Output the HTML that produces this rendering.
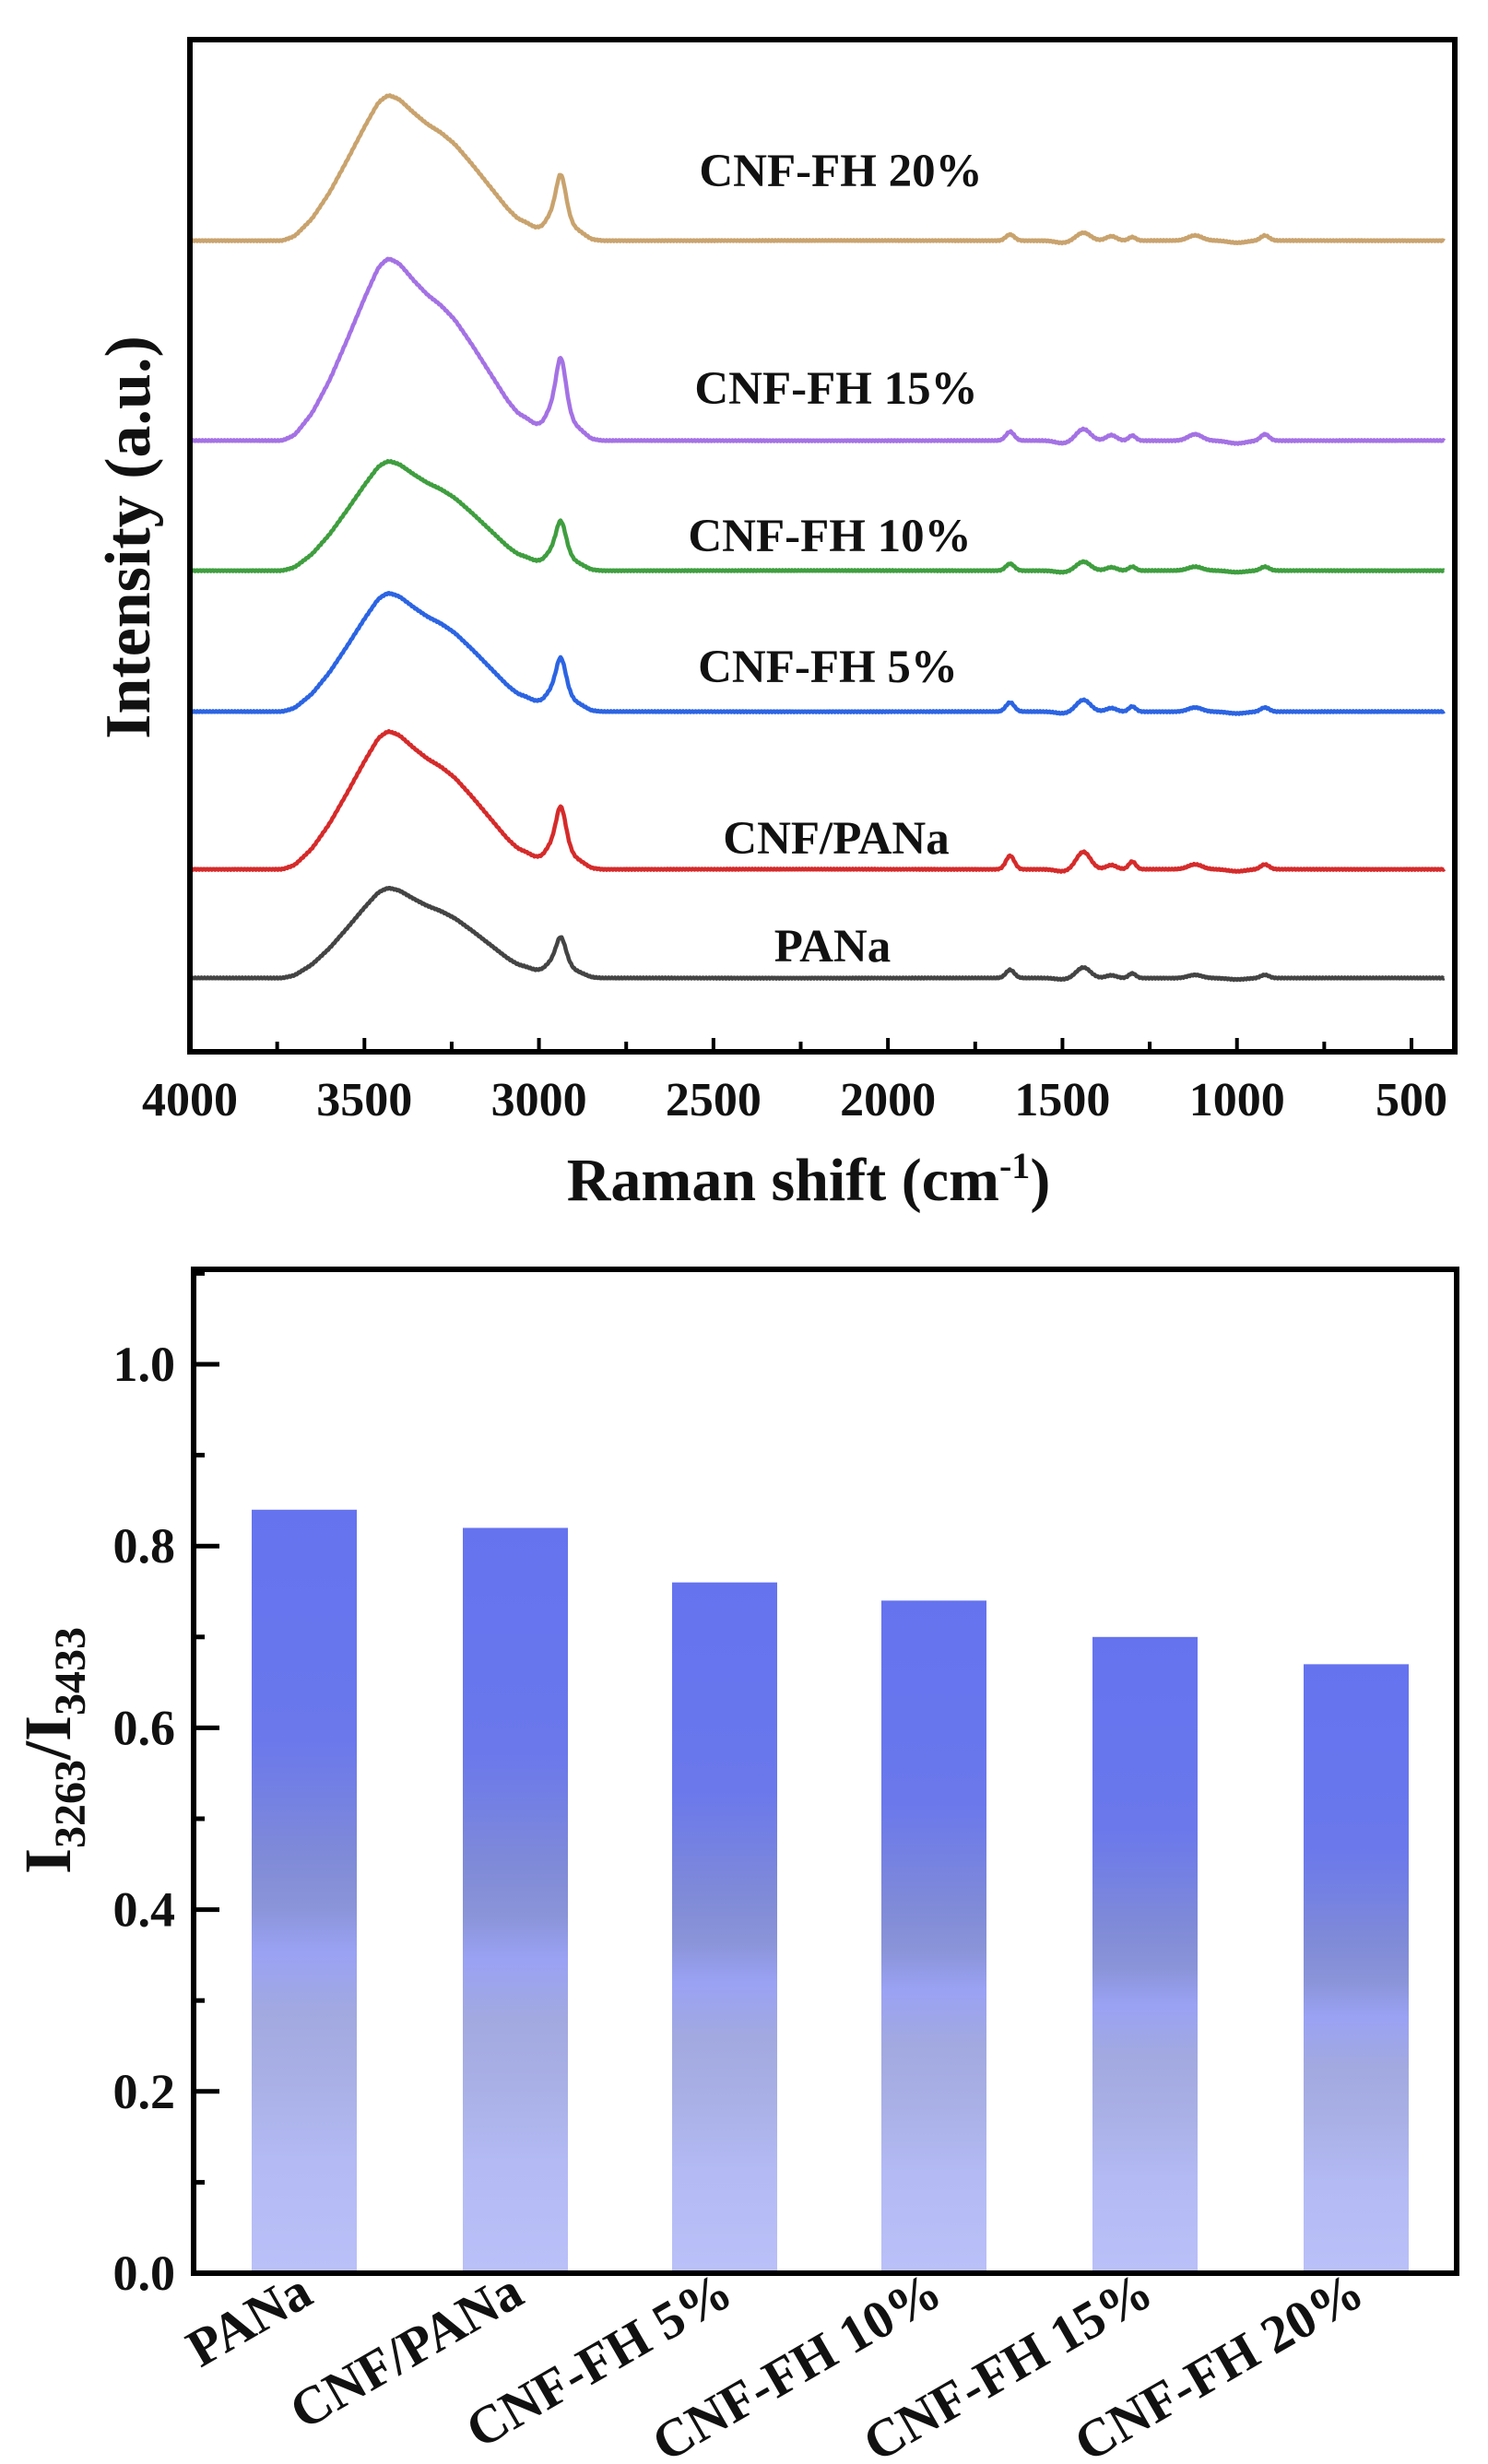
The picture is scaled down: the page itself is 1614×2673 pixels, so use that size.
<!DOCTYPE html>
<html><head><meta charset="utf-8"><style>
html,body{margin:0;padding:0;background:#fff;}
svg text{font-family:"Liberation Serif",serif;font-weight:bold;fill:#111;}
</style></head><body>
<svg id="s" width="1614" height="2668" viewBox="0 0 1614 2668" xmlns="http://www.w3.org/2000/svg">
<defs>
<linearGradient id="bg" x1="0" y1="0" x2="0" y2="1">
<stop offset="0" stop-color="#6573ef"/>
<stop offset="0.3" stop-color="#6a78ec"/>
<stop offset="0.45" stop-color="#7f8ad8"/>
<stop offset="0.52" stop-color="#8a94d8"/>
<stop offset="0.58" stop-color="#9aa2f4"/>
<stop offset="0.66" stop-color="#a2a9e0"/>
<stop offset="0.75" stop-color="#a9b0e6"/>
<stop offset="0.85" stop-color="#b3baf4"/>
<stop offset="1" stop-color="#bac0f8"/>
</linearGradient>
</defs>
<g id="curves"></g>
<rect x="206" y="43" width="1372" height="1098" fill="none" stroke="#000" stroke-width="6"/>
<g id="xt"></g>
<g font-size="51">
<text x="912" y="202" text-anchor="middle">CNF-FH 20%</text>
<text x="907" y="438" text-anchor="middle">CNF-FH 15%</text>
<text x="900" y="598" text-anchor="middle">CNF-FH 10%</text>
<text x="898" y="740" text-anchor="middle">CNF-FH 5%</text>
<text x="907" y="926" text-anchor="middle">CNF/PANa</text>
<text x="903" y="1043" text-anchor="middle">PANa</text>
</g>
<text x="877" y="1302" font-size="66" text-anchor="middle">Raman shift (cm<tspan dy="-24" font-size="40">-1</tspan><tspan dy="24">)</tspan></text>
<text transform="translate(162,583) rotate(-90)" font-size="70" text-anchor="middle">Intensity (a.u.)</text>

<g id="bars"></g>
<rect x="210" y="1377" width="1370" height="1089" fill="none" stroke="#000" stroke-width="6"/>
<g id="yt"></g>
<text transform="translate(76,1899) rotate(-90)" font-size="72" text-anchor="middle">I<tspan dy="16" font-size="48">3263</tspan><tspan dy="-16">/I</tspan><tspan dy="16" font-size="48">3433</tspan></text>
<g id="cl" font-size="58"></g>
</svg>
<script>
var NS="http://www.w3.org/2000/svg";
function el(p,t,a,txt){var e=document.createElementNS(NS,t);for(var k in a)e.setAttribute(k,a[k]);if(txt)e.textContent=txt;document.getElementById(p).appendChild(e);return e;}
function X(v){return 206+(4000-v)*(1325/3500);}
function g(v,c,s,a){return a*Math.exp(-0.5*Math.pow((v-c)/s,2));}
var P=[[4000,0],[3735,0],[3700,0.03],[3650,0.15],[3600,0.33],[3550,0.55],[3500,0.78],[3460,0.95],[3432,1],[3400,0.97],[3360,0.88],[3320,0.8],[3280,0.74],[3240,0.66],[3190,0.52],[3140,0.37],[3090,0.22],[3060,0.15],[3040,0.13],[3010,0.09],[2990,0.1],[2965,0.2],[2950,0.35],[2940,0.5],[2930,0.42],[2915,0.2],[2900,0.1],[2880,0.06],[2850,0.01],[2820,0],[0,0]];
function lin(v){for(var i=0;i<P.length-1;i++){var a=P[i],b=P[i+1];if(v<=a[0]&&v>=b[0]){var t=(a[0]-v)/(a[0]-b[0]);return a[1]+(b[1]-a[1])*t;}}return 0;}
function base(v){var s=0,w=0;for(var d=-12;d<=12;d+=3){var k=Math.exp(-d*d/60);s+=k*lin(v+d);w+=k;}return s/w;}
function shape(v,k){
 return base(v)+g(v,1650,12,0.07*k)+g(v,1440,20,0.09*k)+g(v,1300,10,0.04*k)+g(v,1360,15,0.03)+g(v,1120,20,0.035)+g(v,920,12,0.035)-g(v,1500,20,0.015)-g(v,1000,25,0.015);}
var S=[[261,158,"#c9a36e",0.6],[478,198,"#a472e4",0.7],[619,119,"#3f9e3f",0.9],[772,129,"#2c64e2",1.1],[943,150,"#d52b2b",1.4],[1061,98,"#444",1.3]];
S.forEach(function(s,i){
 var d="";for(var v=4000;v>=405;v-=3){var n=Math.sin(v*0.7+i)*1.2;var y=s[0]-s[1]*shape(v,s[3])+n*0.5;d+=(d?"L":"M")+X(v).toFixed(1)+","+y.toFixed(1);}
 el("curves","path",{d:d,fill:"none",stroke:s[2],"stroke-width":4.5,"stroke-linejoin":"round"});
});
for(var v=3750;v>400;v-=250){var x=X(v);var L=(v%500==0)?12:8;el("xt","line",{x1:x,y1:1138,x2:x,y2:1138-L,stroke:"#000","stroke-width":4});}
for(var v=4000;v>=500;v-=500){el("xt","text",{x:X(v),y:1210,"font-size":52,"text-anchor":"middle"},String(v));}
var vals=[0.84,0.82,0.76,0.74,0.70,0.67],cx=[330,559,786,1013,1242,1471],names=["PANa","CNF/PANa","CNF-FH 5%","CNF-FH 10%","CNF-FH 15%","CNF-FH 20%"];
function Y(v){return 2466-v*986;}
vals.forEach(function(v,i){el("bars","rect",{x:cx[i]-57,y:Y(v),width:114,height:986*v,fill:"url(#bg)"});
 el("cl","text",{transform:"translate("+(cx[i]+12)+",2497) rotate(-30)","text-anchor":"end"},names[i]);});
for(var t=0.1;t<1.1;t+=0.1){var y=Y(t);var mj=Math.round(t*10)%2==0;el("yt","line",{x1:210,y1:y,x2:mj?238:222,y2:y,stroke:"#000","stroke-width":5});}
for(var t=0;t<=5;t++){var v=t*0.2;el("yt","text",{x:190,y:Y(v)+18,"font-size":54,"text-anchor":"end"},v.toFixed(1));}
</script>
</body></html>
